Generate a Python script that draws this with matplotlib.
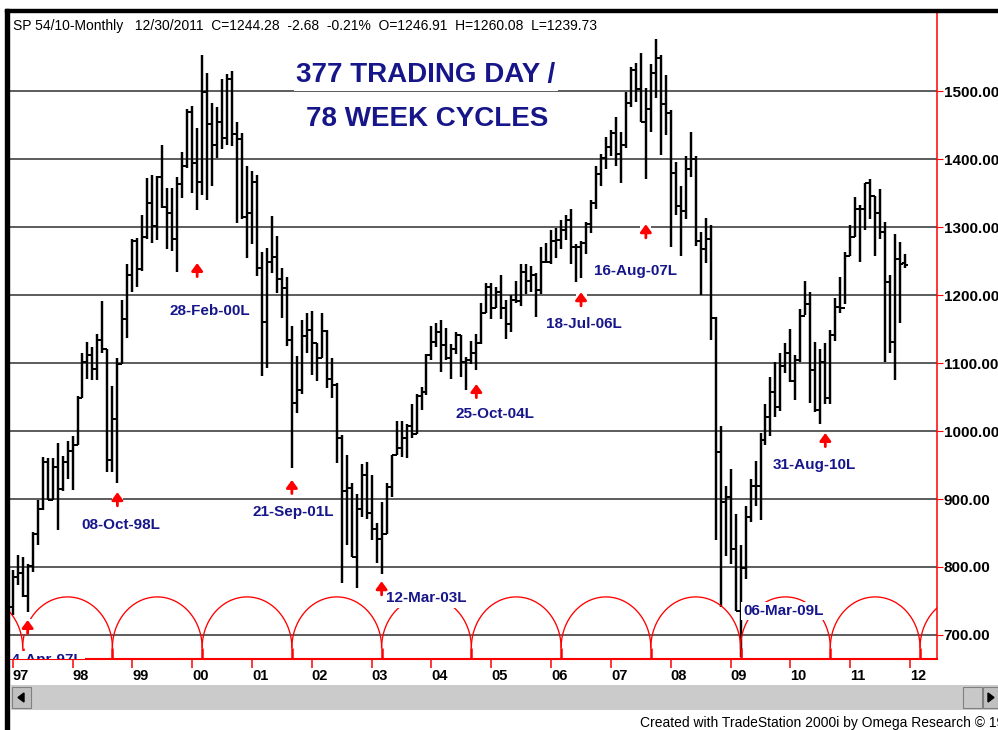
import numpy as np
import matplotlib.pyplot as plt
from matplotlib.patches import Rectangle, Polygon

plt.rcParams['font.family'] = ['Liberation Sans', 'DejaVu Sans']

# monthly bars, Jan 1997 .. Dec 2011 (one row per year)
opens = [
    741, 786, 791, 757, 801, 848, 885, 954, 899, 947, 915, 955,
    970, 980, 1049, 1102, 1112, 1091, 1134, 1121, 957, 1017, 1099, 1164,
    1229, 1280, 1238, 1286, 1335, 1302, 1373, 1329, 1320, 1283, 1363, 1389,
    1469, 1394, 1366, 1499, 1452, 1421, 1455, 1431, 1518, 1437, 1429, 1315,
    1320, 1366, 1240, 1160, 1249, 1256, 1224, 1211, 1134, 1041, 1060, 1139,
    1148, 1130, 1107, 1147, 1077, 1067, 990, 912, 916, 815, 886, 936,
    880, 856, 841, 848, 917, 964, 975, 990, 1008, 996, 1051, 1058,
    1112, 1131, 1145, 1126, 1107, 1121, 1141, 1102, 1104, 1115, 1130, 1174,
    1212, 1181, 1204, 1181, 1157, 1192, 1191, 1234, 1220, 1229, 1207, 1249,
    1248, 1280, 1281, 1295, 1311, 1270, 1270, 1277, 1304, 1336, 1378, 1401,
    1418, 1438, 1407, 1421, 1482, 1531, 1503, 1455, 1474, 1527, 1549, 1481,
    1468, 1379, 1331, 1323, 1386, 1400, 1280, 1267, 1283, 1166, 969, 896,
    903, 826, 735, 798, 873, 919, 919, 987, 1021, 1057, 1036, 1096,
    1115, 1074, 1104, 1169, 1187, 1089, 1031, 1102, 1049, 1141, 1183, 1181,
    1258, 1286, 1327, 1326, 1364, 1345, 1321, 1292, 1219, 1131, 1253, 1246.91,
]
highs = [
    795, 818, 815, 804, 852, 899, 962, 960, 960, 983, 963, 986,
    993, 1052, 1114, 1131, 1124, 1142, 1191, 1121, 1066, 1107, 1193, 1245,
    1283, 1284, 1317, 1372, 1376, 1375, 1421, 1358, 1357, 1373, 1411, 1473,
    1478, 1445, 1553, 1527, 1482, 1477, 1517, 1525, 1530, 1455, 1438, 1389,
    1383, 1376, 1263, 1269, 1316, 1287, 1240, 1226, 1155, 1111, 1163, 1174,
    1177, 1130, 1174, 1148, 1107, 1070, 994, 965, 924, 907, 952, 954,
    935, 865, 896, 924, 965, 1015, 1015, 1011, 1040, 1054, 1064, 1113,
    1155, 1159, 1163, 1151, 1128, 1146, 1141, 1109, 1132, 1142, 1188, 1217,
    1218, 1212, 1229, 1192, 1200, 1220, 1245, 1246, 1243, 1233, 1271, 1276,
    1295, 1298, 1311, 1318, 1327, 1275, 1280, 1307, 1340, 1389, 1408, 1432,
    1442, 1462, 1439, 1498, 1536, 1541, 1556, 1504, 1539, 1576, 1553, 1524,
    1472, 1396, 1360, 1405, 1440, 1404, 1292, 1313, 1303, 1167, 1008, 919,
    944, 878, 833, 889, 930, 956, 997, 1039, 1080, 1101, 1114, 1130,
    1150, 1112, 1180, 1220, 1205, 1131, 1121, 1129, 1149, 1196, 1227, 1263,
    1303, 1344, 1332, 1364, 1371, 1345, 1356, 1307, 1229, 1290, 1278, 1260.08,
]
lows = [
    730, 773, 756, 734, 793, 833, 884, 899, 899, 855, 912, 930,
    913, 980, 1048, 1077, 1075, 1075, 1114, 940, 940, 923, 1098, 1137,
    1205, 1212, 1235, 1283, 1277, 1281, 1328, 1268, 1264, 1234, 1342, 1387,
    1350, 1325, 1347, 1339, 1361, 1401, 1414, 1421, 1419, 1306, 1312, 1254,
    1275, 1228, 1081, 1092, 1232, 1203, 1166, 1125, 945, 1027, 1054, 1115,
    1082, 1074, 1107, 1063, 1049, 953, 776, 833, 815, 769, 873, 871,
    840, 806, 789, 848, 903, 964, 962, 961, 990, 996, 1031, 1053,
    1105, 1124, 1087, 1105, 1076, 1113, 1079, 1061, 1099, 1090, 1128, 1173,
    1164, 1181, 1164, 1136, 1146, 1188, 1184, 1201, 1205, 1168, 1201, 1247,
    1246, 1254, 1268, 1281, 1245, 1219, 1225, 1261, 1291, 1327, 1361, 1386,
    1404, 1389, 1364, 1416, 1477, 1484, 1454, 1371, 1439, 1490, 1406, 1436,
    1270, 1317, 1257, 1312, 1373, 1272, 1200, 1247, 1134, 840, 741, 816,
    805, 735, 667, 783, 866, 889, 869, 979, 992, 1020, 1029, 1086,
    1072, 1045, 1101, 1171, 1041, 1028, 1011, 1040, 1040, 1132, 1173, 1187,
    1258, 1286, 1249, 1295, 1312, 1258, 1283, 1101, 1114, 1075, 1159, 1239.73,
]
closes = [
    786, 791, 757, 801, 848, 885, 954, 899, 947, 915, 955, 970,
    980, 1049, 1102, 1112, 1091, 1134, 1121, 957, 1017, 1099, 1164, 1229,
    1280, 1238, 1286, 1335, 1302, 1373, 1329, 1320, 1283, 1363, 1389, 1469,
    1394, 1366, 1499, 1452, 1421, 1455, 1431, 1518, 1437, 1429, 1315, 1320,
    1366, 1240, 1160, 1249, 1256, 1224, 1211, 1134, 1041, 1060, 1139, 1148,
    1130, 1107, 1147, 1077, 1067, 990, 912, 916, 815, 886, 936, 880,
    856, 841, 848, 917, 964, 975, 990, 1008, 996, 1051, 1058, 1112,
    1131, 1145, 1126, 1107, 1121, 1141, 1102, 1104, 1115, 1130, 1174, 1212,
    1181, 1204, 1181, 1157, 1192, 1191, 1234, 1220, 1229, 1207, 1249, 1248,
    1280, 1281, 1295, 1311, 1270, 1270, 1277, 1304, 1336, 1378, 1401, 1418,
    1438, 1407, 1421, 1482, 1531, 1503, 1455, 1474, 1527, 1549, 1481, 1468,
    1379, 1331, 1323, 1386, 1400, 1280, 1267, 1283, 1166, 969, 896, 903,
    826, 735, 798, 873, 919, 919, 987, 1021, 1057, 1036, 1096, 1115,
    1074, 1104, 1169, 1187, 1089, 1031, 1102, 1049, 1141, 1183, 1181, 1258,
    1286, 1327, 1326, 1364, 1345, 1321, 1292, 1219, 1131, 1253, 1246, 1244.28,
]

year_labels = ['97', '98', '99', '00', '01', '02', '03', '04',
               '05', '06', '07', '08', '09', '10', '11', '12']
price_levels = [700, 800, 900, 1000, 1100, 1200, 1300, 1400, 1500]

# 78-week cycle troughs (bar index), drawn as arcs along the bottom
cycle_troughs = [2, 20, 38, 56, 74, 92, 110, 128, 146, 164, 182]
arc_base, arc_top = 681, 756

# cycle-low labels: text, x (bar index), y (price)
low_labels = [
    ('14-Apr-97L', 6.1, 663), ('08-Oct-98L', 21.7, 862), ('28-Feb-00L', 39.6, 1176),
    ('21-Sep-01L', 56.2, 881), ('12-Mar-03L', 83.0, 754), ('25-Oct-04L', 96.7, 1025),
    ('18-Jul-06L', 114.5, 1157), ('16-Aug-07L', 125.0, 1235), ('06-Mar-09L', 154.7, 735),
    ('31-Aug-10L', 160.7, 950),
]
# red arrows: bar index, price at arrow tip
arrows = [(3, 722), (21, 910), (37, 1247), (56, 928), (74, 779),
          (93, 1069), (114, 1204), (127, 1304), (163, 997)]

header = ('SP 54/10-Monthly   12/30/2011  C=1244.28  -2.68  -0.21%  '
          'O=1246.91  H=1260.08  L=1239.73')
navy = '#16168a'

W, H = 998, 730
fig = plt.figure(figsize=(W / 100, H / 100), dpi=100)
ax = fig.add_axes([10 / W, (H - 659) / H, 927 / W, (659 - 12) / H])
ax.set_xlim(-0.54, 185.4)
ax.set_ylim(664.7, 1616.2)

x = np.arange(len(closes))
ax.vlines(x, lows, highs, color='black', lw=1.75, zorder=2)
ax.hlines(opens, x - 0.55, x, color='black', lw=1.45, zorder=2)
ax.hlines(closes, x, x + 0.55, color='black', lw=1.45, zorder=2)

# cycle arcs
th = np.linspace(0, np.pi, 120)
starts = [cycle_troughs[0] - 18] + cycle_troughs
for a, b in zip(starts[:-1], starts[1:]):
    c, r = (a + b) / 2, (b - a) / 2
    ax.plot(c + r * np.cos(th), arc_base + (arc_top - arc_base) * np.sin(th),
            color='red', lw=0.95, zorder=3)
ax.plot(cycle_troughs[-1] + 9 - 9 * np.cos(th), arc_base + (arc_top - arc_base) * np.sin(th),
        color='red', lw=0.95, zorder=3)
ax.vlines(cycle_troughs, 660, arc_base, color='red', lw=1.8, zorder=3)

# labels and arrows
for txt, lx, ly in low_labels:
    ax.text(lx, ly, txt, color=navy, fontsize=11, fontweight='bold', ha='center',
            va='center', zorder=5, clip_on=True,
            bbox=dict(boxstyle='square,pad=0.15', fc='white', ec='none'))
for ax_x, tip in arrows:
    ax.add_patch(Rectangle((ax_x - 1.1, tip - 21), 2.2, 23, fc='white', ec='none', zorder=4))
    ax.annotate('', xy=(ax_x, tip), xytext=(ax_x, tip - 20),
                arrowprops=dict(arrowstyle='-|>,head_width=0.33,head_length=0.45',
                                color='red', lw=2.0, shrinkA=0, shrinkB=0), zorder=5)

ax.text(82.9, 1523.5, '377 TRADING DAY /', color=navy, fontsize=20, fontweight='bold',
        ha='center', va='center', zorder=5,
        bbox=dict(boxstyle='square,pad=0.1', fc='white', ec='none'))
ax.text(83.1, 1459, '78 WEEK CYCLES', color=navy, fontsize=20, fontweight='bold',
        ha='center', va='center', zorder=5,
        bbox=dict(boxstyle='square,pad=0.1', fc='white', ec='none'))
ax.text(0.06, 1595.6, header, fontsize=10, ha='left', va='center', zorder=5)

# axes styling
ax.set_yticks(price_levels)
ax.set_yticklabels([f'{v:.2f}' for v in price_levels], fontsize=11, fontweight='bold')
ax.yaxis.tick_right()
ax.tick_params(axis='y', color='red', length=4.3, width=0.8, pad=0.6)
ax.grid(axis='y', color='#303030', lw=1.1)
ax.set_axisbelow(True)

ax.set_xticks(np.arange(0, 12 * len(year_labels), 12))
ax.set_xticklabels(year_labels, fontsize=10.5, fontweight='bold')
for lbl in ax.get_xticklabels():
    lbl.set_ha('left')
ax.tick_params(axis='x', color='red', length=6.5, width=1.1, pad=0.5)

for side in ['top', 'left']:
    ax.spines[side].set_visible(False)
ax.spines['right'].set_color('red')
ax.spines['right'].set_linewidth(1.1)
ax.spines['bottom'].set_color('red')
ax.spines['bottom'].set_linewidth(1.5)


def fr(px, py, w, h, **kw):
    fig.add_artist(Rectangle((px / W, 1 - (py + h) / H), w / W, h / H,
                             transform=fig.transFigure, **kw))


# window frame
fr(5, 9, 993, 3, color='black')
fr(5, 9, 4, 721, color='black')

# scroll bar
fr(10, 685, 988, 25, fc='#cbcbcb', ec='none')
fr(12, 687, 19, 21, fc='#c0c0c0', ec='#808080', lw=0.8)
fr(963, 687, 19, 21, fc='#c8c8c8', ec='#808080', lw=0.8)
fr(983, 687, 15, 21, fc='#c0c0c0', ec='#808080', lw=0.8)
fig.add_artist(Polygon([(18 / W, 1 - 697.5 / H), (24 / W, 1 - 693 / H), (24 / W, 1 - 702 / H)],
                       transform=fig.transFigure, color='black'))
fig.add_artist(Polygon([(994 / W, 1 - 697.5 / H), (988 / W, 1 - 693 / H), (988 / W, 1 - 702 / H)],
                       transform=fig.transFigure, color='black'))

fig.text(640 / W, 3 / H, 'Created with TradeStation 2000i by Omega Research \u00a9 1999',
         fontsize=10, ha='left', va='baseline')

fig.savefig('out.png', dpi=100)
